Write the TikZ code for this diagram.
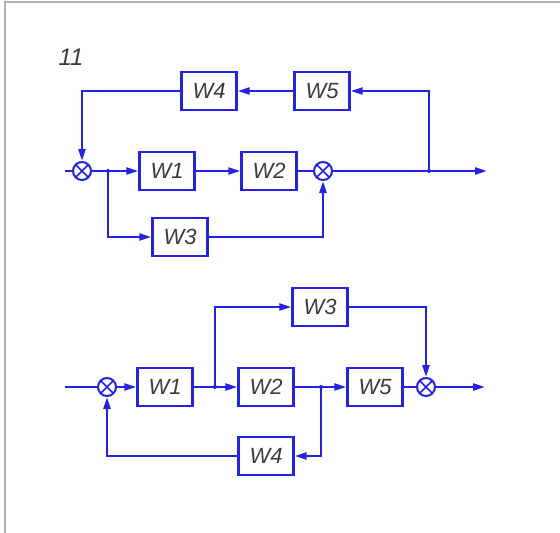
\documentclass[tikz,border=0pt]{standalone}
\usepackage{fontspec}
\setmainfont{Liberation Sans}
\usetikzlibrary{arrows.meta}
\definecolor{lineblue}{RGB}{35,35,225}
\definecolor{txt}{RGB}{60,60,60}
\tikzset{
  wire/.style={draw=lineblue, line width=2.4pt},
  arr/.style={wire, -{Triangle[length=12pt,width=7pt]}},
  blk/.style={draw=lineblue, line width=2.4pt, fill=white, minimum width=55pt, minimum height=38pt, inner sep=0pt, font=\fontsize{22}{22}\selectfont\itshape, text=txt},
  summ/.style={circle, draw=lineblue, line width=2pt, fill=white, minimum size=18pt, inner sep=0pt,
    path picture={\draw[lineblue, line width=1.6pt] (path picture bounding box.north west) -- (path picture bounding box.south east)
      (path picture bounding box.north east) -- (path picture bounding box.south west);}},
  bdot/.style={circle, fill=lineblue!60!black, minimum size=4pt, inner sep=0pt},
  lbl/.style={font=\fontsize{24}{24}\selectfont\itshape, text=txt}
}
\begin{document}
\begin{tikzpicture}[x=1pt,y=-1pt]
\useasboundingbox (0,0) rectangle (560,533);
\fill[white] (0,0) rectangle (560,533);
\draw[gray!60, line width=2pt] (5,533) -- (5,2) -- (560,2);

\node[lbl] (n11) at (71,57) {11};

% ---- top diagram ----
\coordinate (in1) at (65,171);
\node[summ] (s1) at (82,171) {};
\node[bdot] (b1) at (108,171) {};
\node[blk] (w1) at (167,171) {W1};
\node[blk] (w2) at (269,171) {W2};
\node[summ] (s2) at (323,171) {};
\node[bdot] (b2) at (429,171) {};
\coordinate (out1) at (487,171);
\node[blk] (w3) at (180,237) {W3};
\node[blk] (w4) at (209,91) {W4};
\node[blk] (w5) at (322,91) {W5};

\draw[wire] (in1) -- (s1.west);
\draw[arr] (s1.east) -- (w1.west);
\draw[arr] (w1.east) -- (w2.west);
\draw[wire] (w2.east) -- (s2.west);
\draw[arr] (s2.east) -- (out1);
\draw[arr] (b2.center) |- (w5.east);
\draw[arr] (w5.west) -- (w4.east);
\draw[arr] (w4.west) -| (s1.north);
\draw[arr] (b1.center) |- (w3.west);
\draw[arr] (w3.east) -| (s2.south);

% ---- bottom diagram ----
\coordinate (in2) at (65,387);
\node[summ] (s3) at (107,387) {};
\node[blk] (v1) at (165,387) {W1};
\node[bdot] (b3) at (215,387) {};
\node[blk] (v2) at (266,387) {W2};
\node[bdot] (b4) at (321,387) {};
\node[blk] (v5) at (375,387) {W5};
\node[summ] (s4) at (426,387) {};
\coordinate (out2) at (485,387);
\node[blk] (v3) at (320,307) {W3};
\node[blk] (v4) at (266,456) {W4};

\draw[wire] (in2) -- (s3.west);
\draw[arr] (s3.east) -- (v1.west);
\draw[arr] (v1.east) -- (v2.west);
\draw[arr] (b3.center) |- (v3.west);
\draw[arr] (v3.east) -| (s4.north);
\draw[arr] (v2.east) -- (v5.west);
\draw[wire] (v5.east) -- (s4.west);
\draw[arr] (s4.east) -- (out2);
\draw[arr] (b4.center) |- (v4.east);
\draw[arr] (v4.west) -| (s3.south);
\end{tikzpicture}
\end{document}
